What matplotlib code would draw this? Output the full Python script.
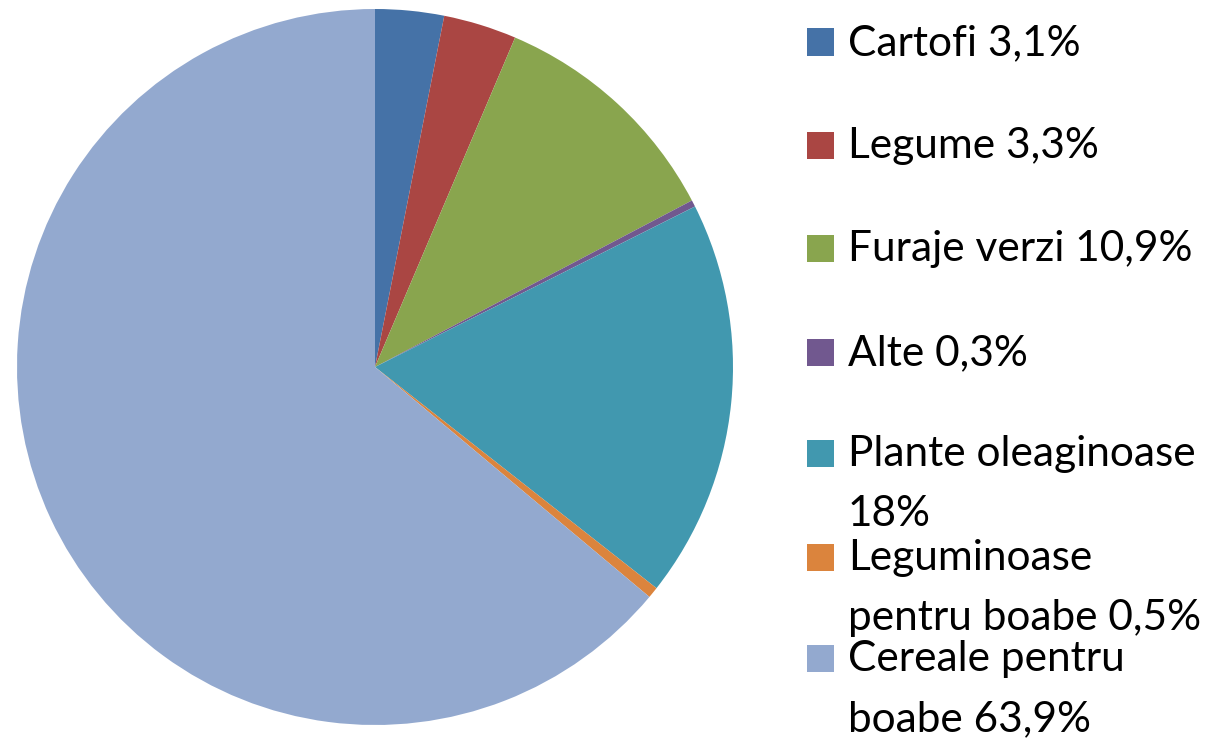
import matplotlib
matplotlib.use("Agg")
import matplotlib.pyplot as plt
from matplotlib.patches import Rectangle

names = ["Cartofi", "Legume", "Furaje verzi", "Alte", "Plante oleaginoase",
         "Leguminoase pentru boabe", "Cereale pentru boabe"]
values = [3.1, 3.3, 10.9, 0.3, 18, 0.5, 63.9]
value_labels = ["3,1%", "3,3%", "10,9%", "0,3%", "18%", "0,5%", "63,9%"]
legend_lines = [
    ["Cartofi 3,1%"],
    ["Legume 3,3%"],
    ["Furaje verzi 10,9%"],
    ["Alte 0,3%"],
    ["Plante oleaginoase", "18%"],
    ["Leguminoase", "pentru boabe 0,5%"],
    ["Cereale pentru", "boabe 63,9%"],
]
colors = ["#4572A7", "#AA4643", "#89A54E", "#71588F", "#4198AF", "#DB843D", "#93A9CF"]

W, H = 1225, 739
fig = plt.figure(figsize=(W / 100, H / 100), dpi=100)
fig.patch.set_facecolor("white")

cx, cy, r = 375, 367, 358
ax = fig.add_axes([(cx - r) / W, (H - cy - r) / H, 2 * r / W, 2 * r / H])
ax.pie(values, colors=colors, startangle=90, counterclock=False,
       wedgeprops=dict(linewidth=0), radius=1)
ax.set_xlim(-1, 1)
ax.set_ylim(-1, 1)
ax.set_aspect("auto")
ax.axis("off")

font = "Lato"
fs = 30.5
entry_centers = [42, 145, 248, 352, 453, 557, 658]
line_gap = 60
sq = 27
for yc, lines, col in zip(entry_centers, legend_lines, colors):
    fig.patches.append(Rectangle(((807) / W, (H - yc - sq / 2) / H), sq / W, sq / H,
                                 transform=fig.transFigure, facecolor=col,
                                 edgecolor="none"))
    for i, line in enumerate(lines):
        y = yc + 13 + i * line_gap
        fig.text(848 / W, (H - y) / H, line, fontsize=fs, family=font,
                 va="baseline", ha="left", color="black")

fig.savefig("out.png", dpi=100, facecolor="white")
